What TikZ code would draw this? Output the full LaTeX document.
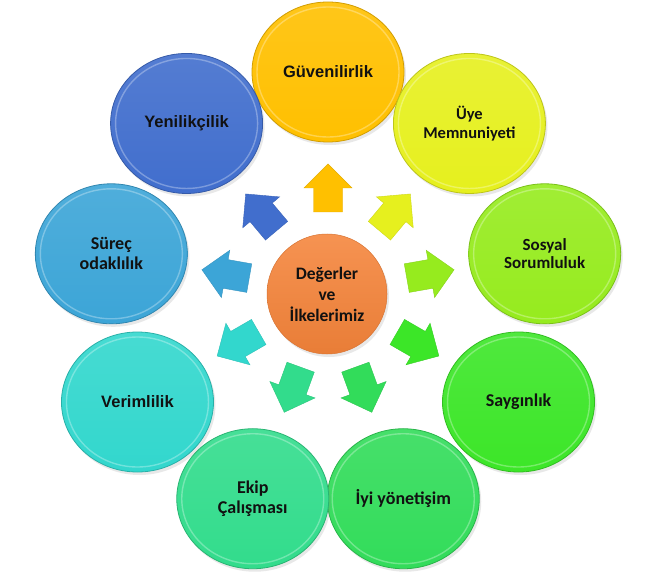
\documentclass[tikz,border=0pt]{standalone}
\usepackage{fontspec}
\usetikzlibrary{shapes.geometric,shadows}
\newfontfamily\calfont{Carlito}
\newfontfamily\arifont{Liberation Sans}
\definecolor{cGuv}{HTML}{FFC000}
\definecolor{cUye}{HTML}{E6F01E}
\definecolor{cSos}{HTML}{96EB1E}
\definecolor{cSay}{HTML}{3CE628}
\definecolor{cIyi}{HTML}{32DC5A}
\definecolor{cEki}{HTML}{32DC8C}
\definecolor{cVer}{HTML}{32D7CD}
\definecolor{cSur}{HTML}{3CA5D7}
\definecolor{cYen}{HTML}{416ECD}
\definecolor{cMid}{HTML}{F5843A}
\definecolor{txt}{HTML}{111111}
\tikzset{
  bubble/.style={ellipse, minimum width=152pt, minimum height=140pt, inner sep=0pt,
    line width=0.8pt, align=center, text=txt,
    drop shadow={opacity=0.18, shadow xshift=2pt, shadow yshift=-3pt}},
  calt/.style={font=\calfont\bfseries\fontsize{18}{20}\selectfont},
  arit/.style={font=\arifont\bfseries\fontsize{16.5}{19}\selectfont},
  blockarrow/.style={line width=0.4pt}
}
\newcommand{\bub}[5]{%
  \path (C) ++(#2:220) node[bubble, top color=#3!90!white, bottom color=#3,
      draw=#3!82!black, #4] (#1) {#5};
  \draw[white, opacity=.3, line width=1.4pt] (#1.center) ellipse [x radius=71, y radius=65];
}
\newcommand{\barrow}[3]{%
  \begin{scope}[shift={(C)}, rotate=#1]
    \path[blockarrow, fill=#2, draw=#2!90!black] (80,-14.5) -- (104,-14.5) -- (104,-24) -- (128,0)
      -- (104,24) -- (104,14.5) -- (80,14.5) -- cycle;
    \coordinate (#3) at (104,0);
  \end{scope}
}
\begin{document}
\begin{tikzpicture}[x=1pt,y=1pt]
  \fill[white] (0,0) rectangle (655,571);
  \useasboundingbox (0,0) rectangle (655,571);
  \coordinate (C) at (328,279);

  \bub{guv}{90}{cGuv}{arit}{Güvenilirlik}
  \bub{uye}{50}{cUye}{calt, font=\calfont\bfseries\fontsize{16.5}{19}\selectfont}{Üye\\Memnuniyeti}
  \bub{sos}{10}{cSos}{calt, font=\calfont\bfseries\fontsize{17}{18.5}\selectfont}{Sosyal\\Sorumluluk}
  \bub{say}{-30}{cSay}{calt}{Saygınlık}
  \bub{iyi}{-70}{cIyi}{calt}{İyi yönetişim}
  \bub{eki}{-110}{cEki}{calt}{Ekip\\Çalışması}
  \bub{ver}{-150}{cVer}{arit}{Verimlilik}
  \bub{sur}{170}{cSur}{calt}{Süreç\\odaklılık}
  \bub{yen}{130}{cYen}{arit}{Yenilikçilik}

  \barrow{90}{cGuv}{a1}
  \barrow{50}{cUye}{a2}
  \barrow{10}{cSos}{a3}
  \barrow{-30}{cSay}{a4}
  \barrow{-70}{cIyi}{a5}
  \barrow{-110}{cEki}{a6}
  \barrow{-150}{cVer}{a7}
  \barrow{170}{cSur}{a8}
  \barrow{130}{cYen}{a9}

  \node[circle, minimum size=120pt, inner sep=0pt, align=center, text=txt,
        top color=cMid!88!white, bottom color=cMid!95!black, draw=cMid!88!black, line width=0.5pt,
        drop shadow={opacity=0.18, shadow xshift=2pt, shadow yshift=-3pt},
        font=\calfont\bfseries\fontsize{17.5}{21}\selectfont] (mid) at (327,277)
        {Değerler\\ve\\İlkelerimiz};
\end{tikzpicture}
\end{document}
